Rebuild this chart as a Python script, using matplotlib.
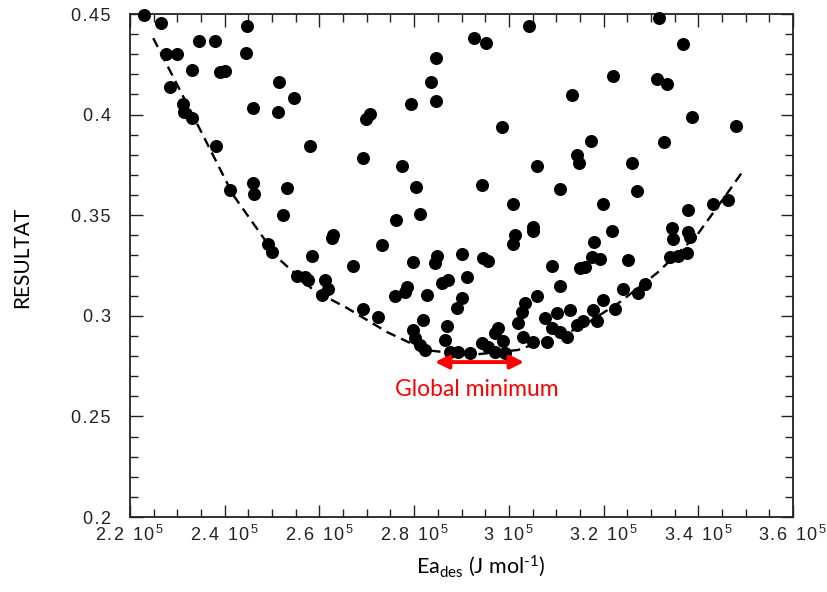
import numpy as np
import matplotlib
matplotlib.use("Agg")
import matplotlib.pyplot as plt
from matplotlib.ticker import MultipleLocator, FixedLocator

plt.rcParams['font.family'] = ['Liberation Sans', 'DejaVu Sans']
plt.rcParams['mathtext.default'] = 'regular'

# ---------------- data (Ea_des in units of 1e5 J/mol, RESULTAT) ----------------
ea_upper = [2.230, 2.265, 2.447, 2.346, 2.380, 2.276, 2.299, 2.445, 2.331, 2.390,
            2.401, 2.284, 2.515, 2.546, 2.312, 2.314, 2.331, 2.460, 2.513, 2.382,
            2.580, 2.411, 2.460, 2.462, 2.532, 2.698, 2.707, 2.692, 2.774, 2.794,
            3.317, 3.043, 2.927, 2.952, 2.846, 2.836, 2.846, 3.368, 3.220, 3.313,
            3.334, 3.134, 3.387, 3.480, 2.986, 3.174, 3.328, 3.060, 3.144, 3.148,
            3.260, 2.804, 2.943, 3.108, 3.271]
res_upper = [0.4495, 0.4455, 0.4440, 0.4366, 0.4366, 0.4301, 0.4301, 0.4306, 0.4222, 0.4212,
             0.4217, 0.4137, 0.4162, 0.4082, 0.4053, 0.4013, 0.3983, 0.4033, 0.4013, 0.3844,
             0.3844, 0.3625, 0.3660, 0.3605, 0.3635, 0.3978, 0.4003, 0.3784, 0.3744, 0.4053,
             0.4480, 0.4440, 0.4381, 0.4356, 0.4281, 0.4162, 0.4068, 0.4351, 0.4192, 0.4177,
             0.4152, 0.4097, 0.3988, 0.3943, 0.3938, 0.3869, 0.3864, 0.3744, 0.3799, 0.3759,
             0.3759, 0.3640, 0.3650, 0.3630, 0.3620]

ea_left = [2.523, 2.812, 2.762, 2.629, 2.627, 2.732, 2.584, 2.671, 2.798, 2.491,
           2.500, 2.553, 2.570, 2.576, 2.612, 2.618, 2.606, 2.760, 2.785, 2.781,
           2.827, 2.692, 2.724, 2.819, 2.798, 2.802, 2.812, 2.823]
res_left = [0.3501, 0.3506, 0.3476, 0.3402, 0.3387, 0.3352, 0.3297, 0.3247, 0.3267, 0.3357,
            0.3317, 0.3198, 0.3193, 0.3178, 0.3178, 0.3133, 0.3103, 0.3098, 0.3143, 0.3118,
            0.3103, 0.3034, 0.2994, 0.2979, 0.2929, 0.2890, 0.2855, 0.2830]

ea_mid = [3.009, 3.013, 3.009, 3.051, 3.051, 2.848, 2.844, 2.901, 2.945, 2.956,
          3.091, 3.150, 2.859, 2.872, 2.912, 3.108, 2.901, 2.891, 3.060, 3.034,
          3.028, 2.870, 2.865, 2.977, 2.971, 2.988, 3.019, 3.030, 3.076, 3.102,
          3.129, 3.091, 3.108, 3.123, 3.144, 3.051, 3.081, 2.943, 2.956, 2.971,
          2.876, 2.893, 2.918, 2.992]
res_mid = [0.3556, 0.3402, 0.3357, 0.3441, 0.3421, 0.3297, 0.3262, 0.3307, 0.3287, 0.3272,
           0.3247, 0.3238, 0.3163, 0.3178, 0.3193, 0.3148, 0.3088, 0.3039, 0.3098, 0.3064,
           0.3019, 0.2949, 0.2880, 0.2939, 0.2914, 0.2875, 0.2964, 0.2895, 0.2989, 0.3014,
           0.3029, 0.2939, 0.2919, 0.2895, 0.2954, 0.2870, 0.2870, 0.2865, 0.2845, 0.2820,
           0.2820, 0.2820, 0.2815, 0.2815]

ea_right = [3.199, 3.218, 3.180, 3.176, 3.193, 3.161, 3.252, 3.378, 3.431, 3.463,
            3.345, 3.347, 3.378, 3.383, 3.340, 3.357, 3.376, 3.241, 3.288, 3.273,
            3.199, 3.178, 3.224, 3.157, 3.186]
res_right = [0.3556, 0.3421, 0.3367, 0.3292, 0.3282, 0.3243, 0.3277, 0.3526, 0.3556, 0.3575,
             0.3437, 0.3382, 0.3417, 0.3392, 0.3292, 0.3297, 0.3312, 0.3133, 0.3158, 0.3113,
             0.3078, 0.3029, 0.3034, 0.2974, 0.2974]

# dashed envelope curve
curve_ea = [2.249, 2.327, 2.418, 2.481, 2.517, 2.587, 2.658, 2.743, 2.823, 2.918,
            3.019, 3.150, 3.235, 3.313, 3.397, 3.463, 3.493]
curve_res = [0.438, 0.4023, 0.360, 0.339, 0.3277, 0.3128, 0.3039, 0.2919, 0.283, 0.2805,
             0.283, 0.294, 0.3069, 0.3213, 0.340, 0.3615, 0.3715]

# global minimum annotation
gm_ea = [2.844, 3.032]
gm_res = 0.277
gm_label = "Global minimum"

xticks_e5 = [2.2, 2.4, 2.6, 2.8, 3.0, 3.2, 3.4, 3.6]
xtick_mant = ['2.2', '2.4', '2.6', '2.8', '3', '3.2', '3.4', '3.6']
yticks = [0.2, 0.25, 0.3, 0.35, 0.4, 0.45]
ytick_labels = ['0.2', '0.25', '0.3', '0.35', '0.4', '0.45']

scale = 1e5
# -------------------------------------------------------------------------------

HS = '\u200a'  # hair space, emulates the wide letter tracking of the original


def track(s):
    return HS.join(s)


fig = plt.figure(figsize=(8.27, 5.92), dpi=100)
ax = fig.add_axes([130/827, 1 - 517/592, 663/827, 503/592])

ea_all = np.array(ea_upper + ea_left + ea_mid + ea_right) * scale
res_all = np.array(res_upper + res_left + res_mid + res_right)

ax.plot(np.array(curve_ea) * scale, curve_res, color='black', lw=1.7,
        dashes=(4.2, 2.6), zorder=2)
ax.scatter(ea_all, res_all, s=88, c='black', linewidths=0, zorder=3, clip_on=False)

ax.annotate('', xy=(gm_ea[1] * scale, gm_res), xytext=(gm_ea[0] * scale, gm_res),
            arrowprops=dict(arrowstyle='<|-|>', color='#ff0000', lw=2.8,
                            mutation_scale=20, shrinkA=0, shrinkB=0), zorder=4)
ax.text(np.mean(gm_ea) * scale - 0.005 * scale, 0.2635, gm_label, color='#ff0000',
        fontsize=16.5, family=['Lato', 'DejaVu Sans'], ha='center', va='center')

ax.set_xlim(2.2 * scale, 3.6 * scale)
ax.set_ylim(0.2, 0.45)
ax.xaxis.set_major_locator(FixedLocator(np.array(xticks_e5) * scale))
ax.set_xticklabels([track(m) + '\u2002' + track('10') + r'$^{\,5}$' for m in xtick_mant])
ax.xaxis.set_minor_locator(MultipleLocator(5000))
ax.yaxis.set_major_locator(FixedLocator(yticks))
ax.set_yticklabels([track(t) for t in ytick_labels])
ax.yaxis.set_minor_locator(MultipleLocator(0.01))

ax.tick_params(which='both', direction='in', top=True, right=True, width=1.0,
               color='#222222')
ax.tick_params(which='major', length=9)
ax.tick_params(which='minor', length=5.5)
ax.tick_params(axis='x', which='major', pad=6, labelsize=13, labelcolor='#222222')
ax.tick_params(axis='y', which='major', pad=14, labelsize=13, labelcolor='#222222')
for sp in ax.spines.values():
    sp.set_linewidth(1.3)
    sp.set_color('#222222')

fig.text(22/827, 1 - 257/592, 'RESULTAT', rotation=90, ha='center', va='center',
         fontsize=15, family=['Lato', 'DejaVu Sans'])
fig.text(481/827, 1 - 566/592, 'Ea$_{des}$ (J mol$^{\u2010 1}$)', ha='center', va='center',
         fontsize=15.5, family=['Lato', 'DejaVu Sans'])

fig.savefig('out.png', dpi=100)
